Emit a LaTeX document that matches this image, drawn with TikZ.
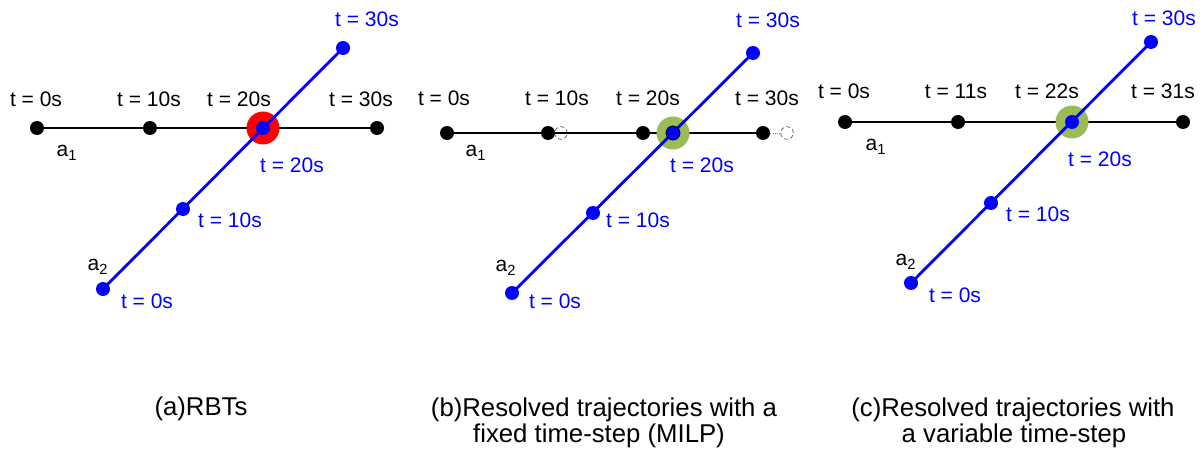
\documentclass[tikz,border=0pt]{standalone}
\usepackage{fontspec}
\setmainfont{Liberation Sans}
\usepackage{xcolor}
\usetikzlibrary{positioning}
\definecolor{okgreen}{RGB}{155,187,89}

\begin{document}
\begin{tikzpicture}[x=0.75pt, y=-0.75pt,
    dot/.style={circle, fill=black, inner sep=0pt, minimum size=10.5pt},
    bdot/.style={dot, fill=blue},
    ghost/.style={circle, draw=gray!80!black, densely dashed, line width=0.6pt,
                  inner sep=0pt, minimum size=9.5pt},
    trajA/.style={draw=black, line width=2.2pt},
    trajB/.style={draw=blue, line width=2.1pt},
    hint/.style={draw=gray, densely dotted, line width=0.7pt},
    clash/.style={circle, fill=red, inner sep=0pt, minimum size=24.75pt},
    solved/.style={circle, fill=okgreen, inner sep=0pt, minimum size=24.75pt},
    tlab/.style={font=\fontsize{15.75}{18}\selectfont, inner sep=0pt, anchor=base},
    blab/.style={tlab, text=blue},
    caption/.style={font=\fontsize{19.3}{21}\selectfont, inner sep=0pt, anchor=base}
]
\useasboundingbox (0,0) rectangle (1204,449);

% --- (a) RBTs ---
\node[dot] (pA0) at (37,128) {};
\node[dot] (pA1) at (150,128) {};
\node[dot] (pA3) at (377,128) {};
\coordinate (qA0) at (103,289);
\coordinate (qA3) at (343,48);
\draw[trajA] (pA0) -- (pA3);
\node[clash] (xA) at (263,128) {};
\draw[trajB] (qA0) -- (qA3);
\node[bdot] (tA0) at (qA0) {};
\node[bdot] (tA1) at (183,209) {};
\node[bdot] (tA2) at (263,128) {};
\node[bdot] (tA3) at (qA3) {};

\node[tlab] (lA0) at (36,107) {t = 0s};
\node[tlab] (lA1) at (149,107) {t = 10s};
\node[tlab] (lA2) at (239,107) {t = 20s};
\node[tlab] (lA3) at (361,107) {t = 30s};
\node[tlab] (nA1) at (67,157) {a\textsubscript{1}};
\node[tlab] (nA2) at (98,271) {a\textsubscript{2}};
\node[blab] (mA0) at (147,308) {t = 0s};
\node[blab] (mA1) at (230,228) {t = 10s};
\node[blab] (mA2) at (292,173) {t = 20s};
\node[blab] (mA3) at (367,27) {t = 30s};

% --- (b) fixed time-step ---
\node[dot] (pB0) at (447,133) {};
\node[dot] (pB1) at (548,133) {};
\node[dot] (pB2) at (643,133) {};
\node[dot] (pB3) at (763,133) {};
\node[ghost] (gB1) at (561,133) {};
\node[ghost] (gB3) at (787,133) {};
\coordinate (qB0) at (512,293);
\coordinate (qB3) at (753,53);
\draw[trajA] (pB0) -- (pB3);
\draw[hint] (pB3) -- (gB3);
\node[solved] (xB) at (673,133) {};
\draw[trajB] (qB0) -- (qB3);
\node[bdot] (tB0) at (qB0) {};
\node[bdot] (tB1) at (593,213) {};
\node[bdot, draw=black, line width=0.6pt] (tB2) at (673,133) {};
\node[bdot] (tB3) at (qB3) {};

\node[tlab] (lB0) at (444,106) {t = 0s};
\node[tlab] (lB1) at (557,106) {t = 10s};
\node[tlab] (lB2) at (648,106) {t = 20s};
\node[tlab] (lB3) at (767,106) {t = 30s};
\node[tlab] (nB1) at (476,157) {a\textsubscript{1}};
\node[tlab] (nB2) at (506,272) {a\textsubscript{2}};
\node[blab] (mB0) at (555,308) {t = 0s};
\node[blab] (mB1) at (638,228) {t = 10s};
\node[blab] (mB2) at (702,173) {t = 20s};
\node[blab] (mB3) at (768,28) {t = 30s};

% --- (c) variable time-step ---
\node[dot] (pC0) at (845,122) {};
\node[dot] (pC1) at (958,122) {};
\node[dot] (pC3) at (1183,122) {};
\coordinate (qC0) at (911,283);
\coordinate (qC3) at (1151,42);
\draw[trajA] (pC0) -- (pC3);
\node[solved] (xC) at (1072,122) {};
\draw[trajB] (qC0) -- (qC3);
\node[bdot] (tC0) at (qC0) {};
\node[bdot] (tC1) at (991,203) {};
\node[bdot] (tC2) at (1072,122) {};
\node[bdot] (tC3) at (qC3) {};

\node[tlab] (lC0) at (844,99) {t = 0s};
\node[tlab] (lC1) at (956,99) {t = 11s};
\node[tlab] (lC2) at (1047,99) {t = 22s};
\node[tlab] (lC3) at (1163,99) {t = 31s};
\node[tlab] (nC1) at (876,151) {a\textsubscript{1}};
\node[tlab] (nC2) at (906,266) {a\textsubscript{2}};
\node[blab] (mC0) at (955,302) {t = 0s};
\node[blab] (mC1) at (1038,222) {t = 10s};
\node[blab] (mC2) at (1100,167) {t = 20s};
\node[blab] (mC3) at (1164,26) {t = 30s};

% --- captions ---
\node[caption] (capA)  at (201,415) {(a)RBTs};
\node[caption] (capB1) at (604,416) {(b)Resolved trajectories with a};
\node[caption] (capB2) at (599,442) {fixed time-step (MILP)};
\node[caption] (capC1) at (1013,416) {(c)Resolved trajectories with};
\node[caption] (capC2) at (1014,442) {a variable time-step};

\end{tikzpicture}
\end{document}
